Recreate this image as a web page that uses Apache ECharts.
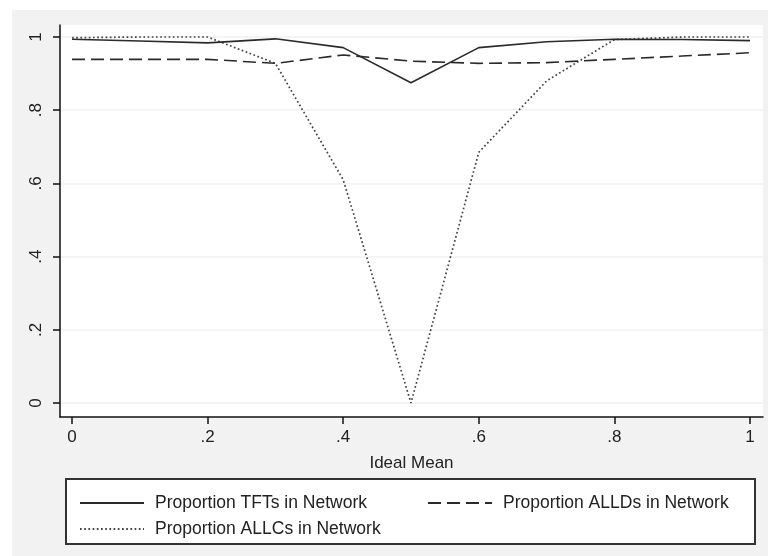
<!DOCTYPE html>
<html>
<head>
<meta charset="utf-8">
<script src="https://cdn.jsdelivr.net/npm/echarts@6/dist/echarts.min.js"></script>
<style>
html,body{margin:0;padding:0;background:#fff;}
#main{width:768px;height:556px;}
</style>
</head>
<body>
<div id="main"></div>
<script>
const idealMean = [0, 0.1, 0.2, 0.3, 0.4, 0.5, 0.6, 0.7, 0.8, 0.9, 1];
const tftValues = [0.994, 0.989, 0.984, 0.995, 0.971, 0.875, 0.971, 0.987, 0.994, 0.993, 0.990];
const alldValues = [0.939, 0.939, 0.939, 0.928, 0.951, 0.934, 0.928, 0.930, 0.939, 0.948, 0.957];
const allcValues = [0.998, 1.0, 1.0, 0.928, 0.61, 0.0, 0.685, 0.88, 0.993, 1.0, 1.0];
const tickValues = [0, 0.2, 0.4, 0.6, 0.8, 1];
const seriesNames = ['Proportion TFTs in Network', 'Proportion ALLDs in Network', 'Proportion ALLCs in Network'];
const xTitle = 'Ideal Mean';

const FONT = '"Liberation Sans", Arial, sans-serif';
function fmt(v) {
  const r = Math.round(v * 10) / 10;
  if (r === 0) return '0';
  if (r === 1) return '1';
  return String(r).replace(/^0/, '');
}
function pairs(vals) { return idealMean.map((x, i) => [x, vals[i]]); }

const chart = echarts.init(document.getElementById('main'), null, {renderer: 'canvas'});
const legendText = {color: '#222', fontSize: 17.5, fontFamily: FONT, padding: [0, 0, 0, 6]};
const legendCommon = {itemWidth: 64, itemHeight: 14, textStyle: legendText, selectedMode: false, itemStyle: {opacity: 0}};
const option = {
  backgroundColor: '#ffffff',
  animation: false,
  graphic: [
    {type: 'rect', z: -100, shape: {x: 12, y: 10, width: 756, height: 546}, style: {fill: '#f2f2f2'}},
    {type: 'rect', z: 1, shape: {x: 66, y: 479, width: 689, height: 65}, style: {fill: '#ffffff', stroke: '#333', lineWidth: 2}}
  ],
  grid: {left: 60, right: 5, top: 25, bottom: 139, show: true, backgroundColor: '#ffffff', borderWidth: 0},
  xAxis: {
    type: 'value', min: -0.0177, max: 1.0192,
    name: xTitle, nameLocation: 'middle', nameGap: 38,
    nameTextStyle: {color: '#222', fontSize: 17, fontFamily: FONT},
    axisLine: {show: true, onZero: false, lineStyle: {color: '#111', width: 1.5}},
    axisTick: {show: true, length: 7, customValues: tickValues, lineStyle: {color: '#111', width: 1.5}},
    axisLabel: {customValues: tickValues, formatter: fmt, margin: 12, color: '#222', fontSize: 17, fontFamily: FONT},
    splitLine: {show: false}
  },
  yAxis: {
    type: 'value', min: -0.03825, max: 1.03279,
    axisLine: {show: true, onZero: false, lineStyle: {color: '#111', width: 1.5}},
    axisTick: {show: true, length: 7, customValues: tickValues, lineStyle: {color: '#111', width: 1.5}},
    axisLabel: {customValues: tickValues, formatter: fmt, rotate: 90, margin: 15, color: '#222', fontSize: 17, fontFamily: FONT},
    splitLine: {show: true, lineStyle: {color: '#f0f0f0', width: 1.5}}
  },
  legend: [
    Object.assign({data: [seriesNames[0]], left: 74, top: 489}, legendCommon),
    Object.assign({data: [seriesNames[1]], left: 422, top: 489}, legendCommon),
    Object.assign({data: [seriesNames[2]], left: 74, top: 515}, legendCommon)
  ],
  series: [
    {name: seriesNames[0], type: 'line', data: pairs(tftValues), symbol: 'none', z: 5,
     lineStyle: {color: '#2a2a2a', width: 1.6, type: 'solid'}, itemStyle: {color: '#2a2a2a'}},
    {name: seriesNames[1], type: 'line', data: pairs(alldValues), symbol: 'none', z: 4,
     lineStyle: {color: '#2a2a2a', width: 1.6, type: [13, 6]}, itemStyle: {color: '#2a2a2a'}},
    {name: seriesNames[2], type: 'line', data: pairs(allcValues), symbol: 'none', z: 3,
     lineStyle: {color: '#444', width: 1.7, type: [1.7, 2.5]}, itemStyle: {color: '#444'}}
  ]
};
chart.setOption(option);
</script>
</body>
</html>
